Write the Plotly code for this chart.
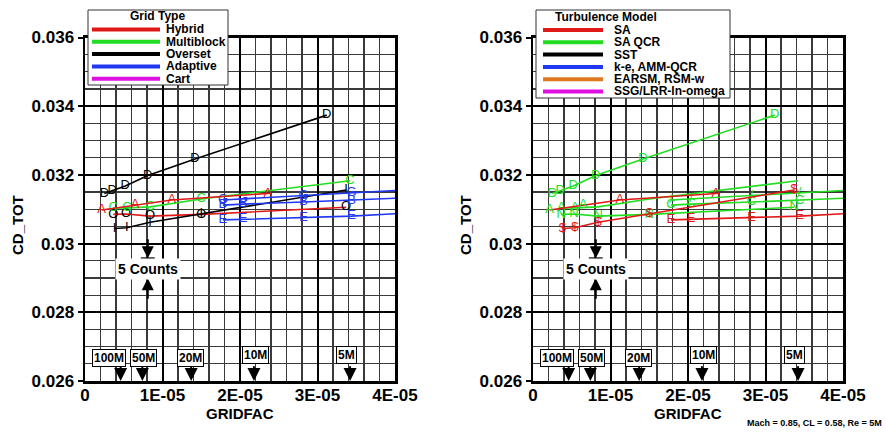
import plotly.graph_objects as go

W, H = 886, 433
FONT = "Liberation Sans, Arial, Helvetica, sans-serif"

RED = "#e01818"
GREEN = "#22dd22"
BLACK = "#000000"
BLUE = "#2038f0"
MAGENTA = "#e010e0"
ORANGE = "#e07820"

# ---------------- axis ticks ----------------
x_tickvals = [0, 1e-5, 2e-5, 3e-5, 4e-5]
x_ticktext = ["0", "1E-05", "2E-05", "3E-05", "4E-05"]
y_tickvals = [0.026, 0.028, 0.030, 0.032, 0.034, 0.036]
y_ticktext = ["0.026", "0.028", "0.03", "0.032", "0.034", "0.036"]

# ---------------- data series (GRIDFAC, CD_TOT) ----------------
gf_D = [2.5e-6, 3.5e-6, 5.2e-6, 8.1e-6, 1.42e-5, 3.12e-5]
cd_D = [0.03146, 0.03154, 0.03168, 0.03198, 0.03246, 0.03374]

gf_A = [2.15e-6, 6.45e-6, 1.12e-5, 2.36e-5]
cd_A = [0.03098, 0.03112, 0.03127, 0.03146]

gf_C = [3.65e-6, 5.4e-6, 8.4e-6, 1.5e-5, 3.42e-5]
cd_C = [0.03104, 0.03104, 0.03107, 0.03130, 0.03183]

gf_O = [3.65e-6, 5.3e-6, 8.4e-6, 1.5e-5, 3.37e-5]
cd_O = [0.03085, 0.03086, 0.03080, 0.03085, 0.03106]

gf_I = [3.8e-6, 5.4e-6, 8.4e-6, 1.5e-5, 3.37e-5]
cd_I = [0.03044, 0.03046, 0.03062, 0.03086, 0.03156]

gf_G = [1.78e-5, 2.04e-5, 2.82e-5, 3.44e-5, 4.1e-5]
cd_G = [0.03127, 0.03130, 0.03140, 0.03147, 0.03156]

gf_B = [1.78e-5, 2.04e-5, 2.82e-5, 3.44e-5, 4.1e-5]
cd_B = [0.03112, 0.03115, 0.03121, 0.03126, 0.03133]

gf_E = [1.78e-5, 2.04e-5, 2.82e-5, 3.44e-5, 4.1e-5]
cd_E = [0.03069, 0.03071, 0.03076, 0.03080, 0.03088]

# ---------------- mesh-size markers ----------------
mesh_labels = ["100M", "50M", "20M", "10M", "5M"]
mesh_gridfac = [4.6e-6, 7.4e-6, 1.37e-5, 2.18e-5, 3.42e-5]
mesh_label_x = [3.1e-6, 7.5e-6, 1.365e-5, 2.2e-5, 3.37e-5]
mesh_label_y = [0.02667, 0.02667, 0.02667, 0.02676, 0.02676]

# "5 Counts" scale bar
counts_x = 8.1e-6
counts_top = [0.03017, 0.02957]
counts_bottom = [0.02835, 0.02899]
counts_label_y = 0.02926

# legends
grid_types = ["Hybrid", "Multiblock", "Overset", "Adaptive", "Cart"]
grid_colors = [RED, GREEN, BLACK, BLUE, MAGENTA]
turb_models = ["SA", "SA QCR", "SST", "k-e, AMM-QCR", "EARSM, RSM-w", "SSG/LRR-ln-omega"]
turb_colors = [RED, GREEN, BLACK, BLUE, ORANGE, MAGENTA]

fig = go.Figure()


def add_series(gf, cd, line_color, labels, label_colors, xa, ya):
    fig.add_trace(go.Scatter(
        x=gf, y=cd, mode="lines+text", text=labels, textposition="middle center",
        textfont=dict(family=FONT, size=13, color=label_colors),
        line=dict(color=line_color, width=1.6),
        xaxis=xa, yaxis=ya, showlegend=False, hoverinfo="skip"))


# ---- left panel: by grid type ----
add_series(gf_D, cd_D, BLACK, ["D"] * 6, BLACK, "x", "y")
add_series(gf_O, cd_O, RED, ["O"] * 5, BLACK, "x", "y")
add_series(gf_I, cd_I, BLACK, ["I"] * 5, BLACK, "x", "y")
add_series(gf_E, cd_E, BLUE, ["E"] * 4 + [""], BLUE, "x", "y")
add_series(gf_B, cd_B, BLUE, ["B"] * 4 + [""], BLUE, "x", "y")
add_series(gf_G, cd_G, BLUE, ["G"] * 4 + [""], BLUE, "x", "y")
add_series(gf_C, cd_C, GREEN, ["C"] * 5, GREEN, "x", "y")
add_series(gf_A, cd_A, RED, ["A"] * 4, RED, "x", "y")

# ---- right panel: by turbulence model ----
add_series(gf_D, cd_D, GREEN, ["D"] * 6, GREEN, "x2", "y2")
add_series(gf_O, cd_O, GREEN, ["N"] * 5, GREEN, "x2", "y2")
add_series(gf_E, cd_E, RED, ["E"] * 4 + [""], RED, "x2", "y2")
add_series(gf_B, cd_B, GREEN, ["C"] * 4 + [""], GREEN, "x2", "y2")
add_series(gf_G, cd_G, GREEN, ["/"] * 4 + [""], GREEN, "x2", "y2")
add_series(gf_C, cd_C, GREEN, ["A", "A", "", "", ""], GREEN, "x2", "y2")
add_series(gf_A, cd_A, RED, ["A"] * 4, [GREEN, GREEN, RED, RED], "x2", "y2")
add_series(gf_I, cd_I, RED, ["$"] * 5, RED, "x2", "y2")

tickfont = dict(family=FONT, size=17, color="black", weight="bold")


def xaxis_cfg(domain, anchor):
    return dict(domain=domain, range=[0, 4e-5], anchor=anchor, tickmode="array",
                tickvals=x_tickvals, ticktext=x_ticktext, ticks="", showline=True,
                linecolor="black", linewidth=2.5, mirror=True, showgrid=True,
                gridcolor="black", gridwidth=2, zeroline=False, tickfont=tickfont,
                fixedrange=True, automargin=False, ticklabelstandoff=-3,
                minor=dict(tickmode="linear", tick0=0, dtick=2e-6, showgrid=True,
                           gridcolor="#3a3a3a", gridwidth=1.2, ticks=""))


def yaxis_cfg(anchor):
    return dict(domain=[1 - 381 / H, 1 - 37.5 / H], range=[0.026, 0.036], anchor=anchor,
                tickmode="array", tickvals=y_tickvals, ticktext=y_ticktext,
                ticks="outside", ticklen=5, tickwidth=2, tickcolor="black",
                showline=True, linecolor="black", linewidth=2.5, mirror=True,
                showgrid=True, gridcolor="black", gridwidth=2, zeroline=False,
                tickfont=tickfont, fixedrange=True, automargin=False,
                minor=dict(tickmode="linear", tick0=0.026, dtick=0.0005, showgrid=True,
                           gridcolor="#3a3a3a", gridwidth=1.2, ticks=""))


shapes = []
annotations = []

for xa, ya in (("x", "y"), ("x2", "y2")):
    # mesh-size arrows and labels
    for lab, gx, lx, ly in zip(mesh_labels, mesh_gridfac, mesh_label_x, mesh_label_y):
        annotations.append(dict(x=gx, y=0.026, ax=gx, ay=0.02647, xref=xa, yref=ya,
                                axref=xa, ayref=ya, text="", showarrow=True,
                                arrowhead=2, arrowsize=1.3, arrowwidth=2, arrowcolor="black"))
        annotations.append(dict(x=lx, y=ly, xref=xa, yref=ya, text=lab, showarrow=False,
                                xanchor="center", yanchor="middle",
                                font=dict(family=FONT, size=12, color="black", weight="bold"),
                                bgcolor="white", bordercolor="black", borderwidth=1, borderpad=1))
    # 5 counts
    annotations.append(dict(x=counts_x, y=counts_top[1], ax=counts_x, ay=counts_top[0],
                            xref=xa, yref=ya, axref=xa, ayref=ya, text="", showarrow=True,
                            arrowhead=2, arrowsize=1.2, arrowwidth=2, arrowcolor="black"))
    annotations.append(dict(x=counts_x, y=counts_bottom[1], ax=counts_x, ay=counts_bottom[0],
                            xref=xa, yref=ya, axref=xa, ayref=ya, text="", showarrow=True,
                            arrowhead=2, arrowsize=1.2, arrowwidth=2, arrowcolor="black"))
    shapes.append(dict(type="line", xref=xa, yref=ya, x0=counts_x - 0.9e-6,
                       x1=counts_x + 0.9e-6, y0=counts_top[1], y1=counts_top[1],
                       line=dict(color="black", width=2), layer="above"))
    annotations.append(dict(x=counts_x, y=counts_label_y, xref=xa, yref=ya, text="5 Counts",
                            showarrow=False, bgcolor="white", borderpad=2,
                            xanchor="center", yanchor="middle",
                            font=dict(family=FONT, size=14, color="black", weight="bold")))


def px(xp, yp):
    return xp / W, 1 - yp / H


def legend(box, title, title_x, names, colors, row0, dy, lx0, lx1, tx):
    x0, y0 = px(box[0], box[1])
    x1, y1 = px(box[2], box[3])
    shapes.append(dict(type="rect", xref="paper", yref="paper", x0=x0, x1=x1, y0=y1, y1=y0,
                       fillcolor="white", line=dict(color="#333333", width=1), layer="above"))
    tx_, ty_ = px(title_x, row0 - 13)
    annotations.append(dict(x=tx_, y=ty_, xref="paper", yref="paper", text=title,
                            showarrow=False, xanchor="left", yanchor="middle",
                            font=dict(family=FONT, size=12, color="black", weight="bold")))
    for i, (n, c) in enumerate(zip(names, colors)):
        yy = row0 + i * dy
        a0, b0 = px(lx0, yy)
        a1, _ = px(lx1, yy)
        shapes.append(dict(type="line", xref="paper", yref="paper", x0=a0, x1=a1, y0=b0, y1=b0,
                           line=dict(color=c, width=4), layer="above"))
        t0, tb = px(tx, yy)
        annotations.append(dict(x=t0, y=tb, xref="paper", yref="paper", text=n,
                                showarrow=False, xanchor="left", yanchor="middle",
                                font=dict(family=FONT, size=12, color="black", weight="bold")))


legend((88, 10, 228, 85), "Grid Type", 128, grid_types, grid_colors, 29.5, 12.3, 92, 160, 164)
legend((536, 10, 730, 98), "Turbulence Model", 553, turb_models, turb_colors, 30, 12.3, 543, 603, 612)

# axis titles
for cx, cy in ((17, 225), (465, 225)):
    ax_, ay_ = px(cx, cy)
    annotations.append(dict(x=ax_, y=ay_, xref="paper", yref="paper", text="CD_TOT",
                            textangle=-90, showarrow=False, xanchor="center", yanchor="middle",
                            font=dict(family=FONT, size=15, color="black", weight="bold")))
for cx, cy in ((240, 413), (688, 413)):
    ax_, ay_ = px(cx, cy)
    annotations.append(dict(x=ax_, y=ay_, xref="paper", yref="paper", text="GRIDFAC",
                            showarrow=False, xanchor="center", yanchor="middle",
                            font=dict(family=FONT, size=15, color="black", weight="bold")))
mx, my = px(884, 423)
annotations.append(dict(x=mx, y=my, xref="paper", yref="paper",
                        text="Mach = 0.85, CL = 0.58, Re = 5M", showarrow=False,
                        xanchor="right", yanchor="middle",
                        font=dict(family=FONT, size=9, color="black", weight="bold")))

fig.update_layout(
    width=W, height=H, margin=dict(l=0, r=0, t=0, b=0, pad=0, autoexpand=False),
    paper_bgcolor="white", plot_bgcolor="white", showlegend=False,
    xaxis=xaxis_cfg([85 / W, 395 / W], "y"), yaxis=yaxis_cfg("x"),
    xaxis2=xaxis_cfg([533 / W, 843 / W], "y2"), yaxis2=yaxis_cfg("x2"),
    shapes=shapes, annotations=annotations,
)

fig.write_html(
    "out.html",
    config={"displayModeBar": False, "staticPlot": True},
    post_script="document.body.style.margin='0';document.body.style.padding='0';"
                "document.body.style.overflow='hidden';",
)
